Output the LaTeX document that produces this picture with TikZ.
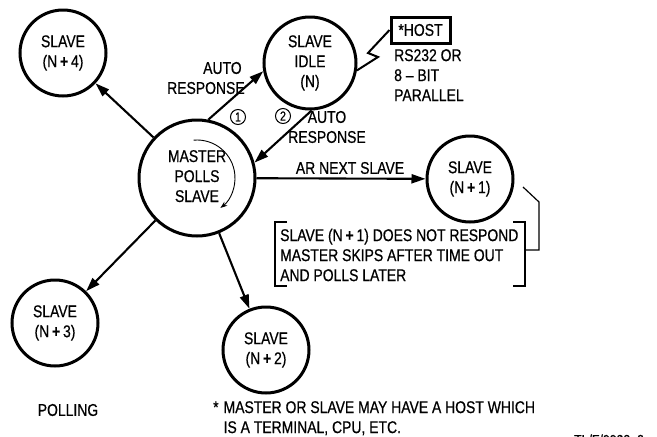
\documentclass[tikz,border=0pt]{standalone}
\usepackage{fontspec}
\setmainfont{Liberation Sans}[FakeStretch=0.82, FakeBold=0.6]
\usetikzlibrary{arrows.meta}
\tikzset{
  slavenode/.style={circle, draw, line width=3pt, minimum size=86pt, inner sep=0pt, align=center},
  arr/.style={line width=2.1pt, -{Triangle[length=14pt,width=9pt]}},
  lbl/.style={inner sep=0pt, align=center},
  numc/.style={circle, draw, line width=1pt, minimum size=15pt, inner sep=0pt, font=\fontsize{13}{13}\selectfont},
  brk/.style={line width=1.5pt},
}
\begin{document}
\begin{tikzpicture}[x=1pt, y=-1pt, font=\fontsize{17}{20}\selectfont]
\useasboundingbox (0,0) rectangle (657,437);
% circles
\node[slavenode] (n4) at (63,53) {SLAVE\\(N\,\textbf{+}\,4)};
\node[slavenode, minimum size=92pt] (idle) at (310,63) {SLAVE\\IDLE\\(N)};
\node[slavenode, minimum size=116pt] (master) at (197,178) {\raisebox{-4pt}{\begin{tabular}{@{}c@{}}MASTER\\POLLS\\SLAVE\end{tabular}}};
\node[slavenode] (n1) at (470,179) {SLAVE\\(N\,\textbf{+}\,1)};
\node[slavenode] (n3) at (55,323) {SLAVE\\(N\,\textbf{+}\,3)};
\node[slavenode] (n2) at (266,350) {SLAVE\\(N\,\textbf{+}\,2)};
% host
\node[draw, line width=3pt, minimum width=59pt, minimum height=26pt, inner sep=0pt] (host) at (420.5,30) {*HOST};
\node[lbl, align=left, anchor=north west] (link) at (394,49) {RS232 OR\\8 -- BIT\\PARALLEL};
\coordinate (z1) at (378,57);
\coordinate (z2) at (368,53);
\draw[line width=2pt] (idle.-9) -- (z1) -- (z2) -- (host.west);
% arrows
\draw[arr] (master) -- (n4);
\draw[arr] (master.79) -- (idle.190);
\draw[arr] (idle.272) -- (master.15);
\draw[arr] (master) -- (n1);
\draw[arr] (master) -- (n3);
\draw[arr] (master) -- (n2);
% labels
\node[lbl, align=left, anchor=west] (ar1) at (167,78) {\hspace{36pt}AUTO\\RESPONSE};
\node[numc] (c1) at (238,117) {1};
\node[numc] (c2) at (283,116) {2};
\node[lbl] (ar2) at (327,127) {AUTO\\RESPONSE};
\node[lbl] (arnext) at (350,168) {AR NEXT SLAVE};
% rotating arrow inside master
\draw[line width=0.9pt, -{Stealth[length=7pt,width=5pt]}] ([shift={(-95:38)}]master.center) arc[start angle=-95, end angle=52, radius=38];
% note with brackets
\node[lbl, align=left, anchor=west] (note) at (280,255) {SLAVE (N\,\textbf{+}\,1) DOES NOT RESPOND\\MASTER SKIPS AFTER TIME OUT\\AND POLLS LATER};
\draw[brk] (287,222) -- (275,222) -- (275,286) -- (287,286);
\draw[brk] (513,222) -- (525,222) -- (525,286) -- (513,286);
\coordinate (q1) at (539,250);
\coordinate (q2) at (539,202);
\coordinate (q3) at (523,187);
\draw[line width=1.2pt] (525,250) -- (q1) -- (q2) -- (q3);
% bottom texts
\node[lbl] (polling) at (68,410) {POLLING};
\node[lbl, align=left, anchor=north west] (foot) at (213,401) {*\hspace{5pt}MASTER OR SLAVE MAY HAVE A HOST WHICH\\\phantom{*}\hspace{5pt}IS A TERMINAL, CPU, ETC.};
\node[lbl, anchor=west, font=\fontsize{15}{15}\selectfont] (tl) at (574,440) {TL/F/9983--2};
\end{tikzpicture}
\end{document}
